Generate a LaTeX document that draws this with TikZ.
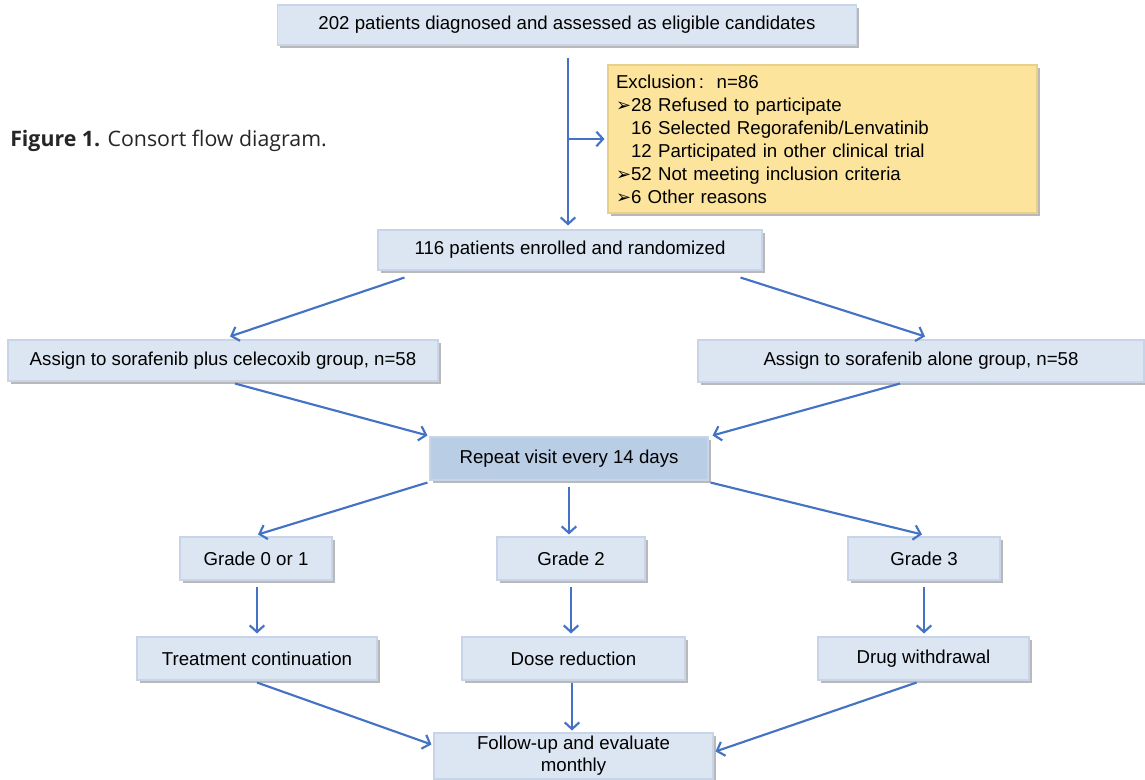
\documentclass[tikz,border=0pt]{standalone}
\usepackage{fontspec}
\setmainfont{Liberation Sans}
\newfontfamily\dejavu{DejaVu Sans}
\newfontfamily\capfont{Open Sans}
\usetikzlibrary{arrows.meta,calc,shadows}
\definecolor{boxfill}{HTML}{DCE6F2}
\definecolor{boxline}{HTML}{C8D5E8}
\definecolor{repfill}{HTML}{B9CDE5}
\definecolor{exfill}{HTML}{FCE49C}
\definecolor{exline}{HTML}{E8D08A}
\definecolor{arrowblue}{HTML}{4472C4}
\newcommand{\bul}{{\dejavu\fontsize{13.5}{12}\selectfont ➢}}
\begin{document}
\begin{tikzpicture}[x=0.75pt,y=-0.75pt,
  box/.style={draw=boxline, fill=boxfill, line width=0.8pt, inner sep=0pt,
    drop shadow={shadow xshift=2.2pt, shadow yshift=-2.2pt, fill=black!50, opacity=0.55},
    font=\fontsize{14}{15}\selectfont, align=center},
  arr/.style={draw=arrowblue, line width=1.6pt, -{Straight Barb[length=5pt,width=11pt,line width=1.6pt]}}]
\useasboundingbox (0,0) rectangle (1145,780);
\fill[white] (0,0) rectangle (1145,780);
% caption
\node[anchor=west, font=\capfont\fontsize{16}{18}\selectfont, inner sep=0pt, text=black!85] (cap) at (10,141) {\textbf{Figure 1.} Consort flow diagram.};
% boxes
\node[box, minimum width=579*0.75pt, minimum height=40*0.75pt] (top) at (567,25) {202 patients diagnosed and assessed as eligible candidates};
\node[box, draw=exline, fill=exfill, minimum width=429*0.75pt, minimum height=148*0.75pt,
      text width=413*0.75pt, align=left, font=\fontsize{14}{17.25}\selectfont] (excl) at (822.5,139)
  {Exclusion\,:\ \ n=86\\
   \bul28 Refused to participate\\
   \phantom{\bul}16 Selected Regorafenib/Lenvatinib\\
   \phantom{\bul}12 Participated in other clinical trial\\
   \bul52 Not meeting inclusion criteria\\
   \bul6 Other reasons};
\node[box, minimum width=384*0.75pt, minimum height=40*0.75pt] (enr) at (570,250) {116 patients enrolled and randomized};
\node[box, minimum width=430*0.75pt, minimum height=41*0.75pt] (left) at (223,360.5) {Assign to sorafenib plus celecoxib group, n=58};
\node[box, minimum width=446*0.75pt, minimum height=42*0.75pt] (right) at (921,361) {Assign to sorafenib alone group, n=58};
\node[box, fill=repfill, minimum width=278*0.75pt, minimum height=43*0.75pt] (rep) at (569,458.5) {Repeat visit every 14 days};
\node[box, minimum width=152*0.75pt, minimum height=43*0.75pt] (g0) at (256,558.5) {Grade 0 or 1};
\node[box, minimum width=148*0.75pt, minimum height=43*0.75pt] (g2) at (571,558.5) {Grade 2};
\node[box, minimum width=152*0.75pt, minimum height=43*0.75pt] (g3) at (924,558.5) {Grade 3};
\node[box, minimum width=240*0.75pt, minimum height=43*0.75pt] (treat) at (257,658.5) {Treatment continuation};
\node[box, minimum width=223*0.75pt, minimum height=43*0.75pt] (dose) at (573.5,658.5) {Dose reduction};
\node[box, minimum width=211*0.75pt, minimum height=43*0.75pt] (drug) at (923.5,658.5) {Drug withdrawal};
\node[box, minimum width=279*0.75pt, minimum height=46*0.75pt, font=\fontsize{14}{16.5}\selectfont] (fol) at (573.5,756) {Follow-up and evaluate\\monthly};
% connectors
\coordinate (vtop) at ($(top.south)+(1,12)$);
\draw[arr] (vtop) -- ($(vtop |- enr.north)+(0,-4)$);
\draw[arr] (vtop |- excl.west) -- ($(excl.west)+(-3,0)$);
\draw[arr] ($(enr.south west)+(27,7)$) -- ($(left.north)+(7,-3)$);
\draw[arr] ($(enr.south east)+(-22,7)$) -- ($(right.north)+(4,-3)$);
\draw[arr] ($(left.south)+(12,2)$) -- ($(rep.north west)+(-2,-1)$);
\draw[arr] ($(right.south)+(-21,1)$) -- ($(rep.north east)+(4,-1)$);
\draw[arr] ($(rep.south west)+(-2,2)$) -- ($(g0.north)+(2,-2)$);
\draw[arr] ($(rep.south)+(0,6)$) -- ($(rep.south |- g2.north)+(0,-2)$);
\draw[arr] ($(rep.south east)+(2,2)$) -- ($(g3.north)+(-2,-2)$);
\draw[arr] ($(g0.south)+(1,6)$) -- ($(g0.south |- treat.north)+(1,-3)$);
\draw[arr] ($(g2.south)+(0,6)$) -- ($(g2.south |- dose.north)+(0,-3)$);
\draw[arr] ($(g3.south)+(0,6)$) -- ($(g3.south |- drug.north)+(0,-3)$);
\draw[arr] ($(treat.south)+(0,2)$) -- ($(fol.north west)+(-2,12)$);
\draw[arr] ($(dose.south)+(-1.5,2)$) -- ($(dose.south |- fol.north)+(-1.5,-2)$);
\draw[arr] ($(drug.south)+(-7,2)$) -- ($(fol.north east)+(2,19)$);
\end{tikzpicture}
\end{document}
